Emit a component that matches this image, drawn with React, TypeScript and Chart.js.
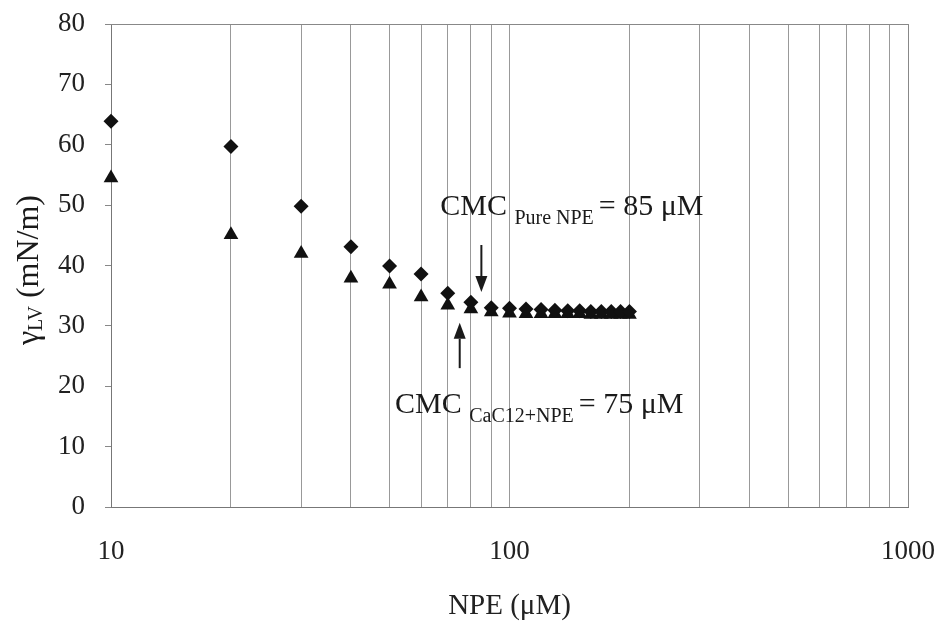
import React, { useEffect, useRef } from "react";
import { Chart, registerables } from "chart.js";

Chart.register(...registerables);

const npeConc = [10, 20, 30, 40, 50, 60, 70, 80, 90, 100, 110, 120, 130, 140, 150, 160, 170, 180, 190, 200];
const pureNPE = [63.9, 59.7, 49.8, 43.1, 39.9, 38.6, 35.4, 33.9, 33.0, 32.9, 32.8, 32.7, 32.6, 32.5, 32.5, 32.4, 32.4, 32.4, 32.4, 32.4];
const cacNPE = [54.5, 45.1, 42.0, 37.9, 36.9, 34.8, 33.4, 32.8, 32.3, 32.1, 32.0, 32.0, 32.0, 32.0, 32.0, 31.9, 31.9, 31.9, 31.9, 31.9];
const xGridTicks = [10, 20, 30, 40, 50, 60, 70, 80, 90, 100, 200, 300, 400, 500, 600, 700, 800, 900, 1000];
const xLabelTicks = [10, 100, 1000];
const cmcPure = 85;
const cmcMix = 75;

const SERIF = "'Liberation Serif', 'Times New Roman', serif";

const annotationPlugin = {
  id: "annot",
  afterDraw(chart: any) {
    const ctx = chart.ctx as CanvasRenderingContext2D;
    const xs = chart.scales.x;
    const ys = chart.scales.y;
    const ca = chart.chartArea;
    ctx.save();
    // plot frame (top and right)
    ctx.strokeStyle = "#888";
    ctx.lineWidth = 1;
    ctx.beginPath();
    ctx.moveTo(ca.left, ca.top + 0.5);
    ctx.lineTo(ca.right + 0.5, ca.top + 0.5);
    ctx.lineTo(ca.right + 0.5, ca.bottom);
    ctx.stroke();

    ctx.fillStyle = "#1a1a1a";
    ctx.strokeStyle = "#1a1a1a";

    const arrow = (xv: number, fromY: number, toY: number) => {
      const x = xs.getPixelForValue(xv);
      const y1 = ys.getPixelForValue(fromY);
      const y2 = ys.getPixelForValue(toY);
      const dir = y2 > y1 ? 1 : -1;
      const head = 16;
      ctx.lineWidth = 2;
      ctx.beginPath();
      ctx.moveTo(x, y1);
      ctx.lineTo(x, y2 - dir * head);
      ctx.stroke();
      ctx.beginPath();
      ctx.moveTo(x, y2);
      ctx.lineTo(x - 6, y2 - dir * head);
      ctx.lineTo(x + 6, y2 - dir * head);
      ctx.closePath();
      ctx.fill();
    };
    arrow(cmcPure, 43.4, 35.6);
    arrow(cmcMix, 23, 30.5);

    const label = (xv: number, yv: number, sub: string, rest: string) => {
      let x = xs.getPixelForValue(xv);
      const y = ys.getPixelForValue(yv);
      ctx.textBaseline = "alphabetic";
      ctx.textAlign = "left";
      ctx.font = `30px ${SERIF}`;
      ctx.fillText("CMC ", x, y);
      x += ctx.measureText("CMC ").width;
      ctx.font = `20px ${SERIF}`;
      ctx.fillText(sub, x, y + 9);
      x += ctx.measureText(sub + " ").width;
      ctx.font = `30px ${SERIF}`;
      ctx.fillText(rest, x, y);
    };
    label(67, 48.3, "Pure NPE", "= 85 \u03bcM");
    label(51.6, 15.6, "CaC12+NPE", "= 75 \u03bcM");

    // y axis title with subscript
    ctx.translate(30, 270);
    ctx.rotate(-Math.PI / 2);
    ctx.font = `32px ${SERIF}`;
    const g = "\u03b3";
    const rest = " (mN/m)";
    const wG = ctx.measureText(g).width;
    const wR = ctx.measureText(rest).width;
    ctx.font = `20px ${SERIF}`;
    const wS = ctx.measureText("LV").width;
    const total = wG + wS + wR;
    let px = -total / 2;
    ctx.textBaseline = "middle";
    ctx.font = `32px ${SERIF}`;
    ctx.fillText(g, px, 0);
    px += wG;
    ctx.font = `20px ${SERIF}`;
    ctx.fillText("LV", px, 7);
    px += wS;
    ctx.font = `32px ${SERIF}`;
    ctx.fillText(rest, px, 0);
    ctx.restore();
  },
};

export default function App() {
  const ref = useRef<HTMLCanvasElement | null>(null);
  useEffect(() => {
    document.body.style.margin = "0";
    if (!ref.current) return;
    const chart = new Chart(ref.current, {
      type: "scatter",
      data: {
        datasets: [
          {
            label: "Pure NPE",
            data: npeConc.map((x, i) => ({ x, y: pureNPE[i] })),
            pointStyle: "rectRot",
            pointRadius: 7.5,
            backgroundColor: "#111",
            borderColor: "#111",
            borderWidth: 0,
            clip: false,
          },
          {
            label: "CaC12+NPE",
            data: npeConc.map((x, i) => ({ x, y: cacNPE[i] })),
            pointStyle: "triangle",
            pointRadius: 8.5,
            backgroundColor: "#111",
            borderColor: "#111",
            borderWidth: 0,
            clip: false,
          },
        ],
      },
      options: {
        animation: false,
        responsive: false,
        layout: { padding: { left: 0, right: 32, top: 24, bottom: 0 } },
        plugins: { legend: { display: false }, tooltip: { enabled: false } },
        scales: {
          x: {
            type: "logarithmic",
            min: 10,
            max: 1000,
            border: { color: "#777", width: 1 },
            grid: {
              color: (c: any) =>
                c.tick && xGridTicks.includes(Math.round(c.tick.value)) ? "#999" : "rgba(0,0,0,0)",
              lineWidth: 1,
              drawTicks: false,
            },
            afterBuildTicks: (s: any) => {
              s.ticks = xGridTicks.map((v) => ({ value: v }));
            },
            ticks: {
              padding: 29,
              color: "#222",
              font: { family: SERIF, size: 27 },
              autoSkip: false,
              maxRotation: 0,
              callback: (v: any) => (xLabelTicks.includes(Number(v)) ? String(v) : ""),
            },
            title: {
              display: true,
              text: "NPE (\u03bcM)",
              color: "#222",
              font: { family: SERIF, size: 29 },
              padding: { top: 10, bottom: 0 },
            },
            afterFit: (s: any) => {
              s.height = 117;
              s.paddingLeft = 0;
              s.paddingRight = 0;
            },
          },
          y: {
            min: 0,
            max: 80,
            border: { color: "#777", width: 1 },
            grid: { drawOnChartArea: false, color: "#888", tickLength: 6 },
            ticks: {
              stepSize: 10,
              padding: 20,
              color: "#222",
              font: { family: SERIF, size: 27 },
            },
            afterFit: (s: any) => {
              s.width = 111;
              s.paddingTop = 0;
              s.paddingBottom = 0;
            },
          },
        },
      },
      plugins: [annotationPlugin],
    });
    return () => chart.destroy();
  }, []);
  return (
    <div style={{ width: 940, height: 624, background: "#fff" }}>
      <canvas ref={ref} width={940} height={624} />
    </div>
  );
}
